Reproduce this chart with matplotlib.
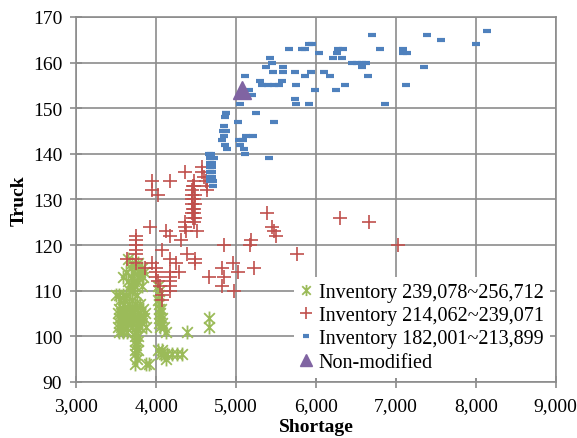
import numpy as np
import matplotlib.pyplot as plt
from matplotlib.path import Path
from matplotlib.ticker import FuncFormatter

# Inventory 239,078~256,712
green_x = [3650, 3700, 3780, 3680, 3760, 3830, 3620, 3720, 3800, 3850,
           3590, 3700, 3780, 3840, 3650, 3720, 3760, 3690, 3740, 3820, 4020,
           3670, 3700, 4040, 3500, 3540, 3580, 3620, 3760, 4040,
           3550, 3600, 3700, 4030, 3600, 3660, 3740, 3800, 4040,
           3540, 3580, 3640, 3700, 3760, 3840, 4040, 4060,
           3520, 3560, 3620, 3680, 3720, 3800, 3860, 4050,
           3530, 3570, 3610, 3660, 3720, 3780, 3850, 4040, 4080, 4660,
           3540, 3580, 3650, 3700, 3760, 3820, 4040, 4070,
           3520, 3560, 3620, 3700, 3750, 3800, 3880, 4050, 4100, 4660,
           3540, 3580, 3640, 3740, 4130, 4390,
           3740, 3770, 3740, 3770, 3750,
           3740, 3770, 4030, 4080,
           3740, 4060, 4100, 4140, 4200, 4260, 4330,
           3760, 4120, 3740, 3870, 3910]
green_y = [117, 116, 116, 115, 115, 115, 114, 114, 114, 114,
           113, 113, 113, 113, 112, 112, 112, 111, 111, 111, 111,
           110, 110, 110, 109, 109, 109, 109, 109, 109,
           108, 108, 108, 108, 107, 107, 107, 107, 107,
           106, 106, 106, 106, 106, 106, 106, 106,
           105, 105, 105, 105, 105, 105, 105, 105,
           104, 104, 104, 104, 104, 104, 104, 104, 104, 104,
           103, 103, 103, 103, 103, 103, 103, 103,
           102, 102, 102, 102, 102, 102, 102, 102, 102, 102,
           101, 101, 101, 101, 101, 101,
           100, 100, 99, 99, 98,
           97, 97, 97, 97,
           96, 96, 96, 96, 96, 96, 96,
           95, 95, 94, 94, 94]

# Inventory 214,062~239,071
red_x = [4570, 4366, 4580, 4600, 3954, 4172, 4620, 4470,
         4460, 4480, 4640, 3954, 4450, 4640, 4025, 4450, 4490,
         4450, 4480, 4450, 4490, 4460, 4480, 4450, 4480, 5391,
         4460, 4490, 6307, 4360, 4470, 6660, 3929, 4366, 5445,
         4122, 4370, 4508, 5475, 3744, 4172, 5495, 3744, 4315, 5193,
         3744, 4849, 5172, 7025, 3744, 4076, 3744, 4382, 5760,
         3639, 3744, 4176, 4483, 3744, 3954, 4244, 4483, 4962,
         3857, 3996, 4828, 5223, 4000, 4170, 4290, 5025,
         4000, 4170, 4660, 4845, 4020, 4170, 4046, 4170, 4828,
         4170, 4979, 4080, 4070]
red_y = [137, 136, 136, 135, 134, 134, 134, 134,
         133, 133, 133, 132, 132, 132, 131, 131, 131,
         130, 130, 129, 129, 128, 128, 127, 127, 127,
         126, 126, 126, 125, 125, 125, 124, 124, 124,
         123, 123, 123, 123, 122, 122, 122, 121, 121, 121,
         120, 120, 120, 120, 119, 119, 118, 118, 118,
         117, 117, 117, 117, 116, 116, 116, 116, 116,
         115, 115, 115, 115, 114, 114, 114, 114,
         113, 113, 113, 113, 112, 112, 111, 111, 111,
         110, 110, 109, 108]

# Inventory 182,001~213,899
blue_x = [8147, 6702, 7387, 7567, 8000, 5910, 5950,
          5660, 5830, 5860, 6281, 6336, 6798, 7084,
          6038, 6260, 7090, 7140, 5420, 6218, 6323,
          5445, 6450, 6520, 6580, 6630, 5374, 5584, 6576, 7353,
          5466, 5584, 5735, 5933, 6105, 5118, 5866, 6172, 6651,
          5303, 5580, 5168, 5200, 5328, 5400, 5470, 5540, 5752, 6370, 7130,
          5983, 6256, 5735, 5756, 5916, 5055, 6861,
          4870, 4880, 4860, 5248, 5021, 5470, 4849,
          4836, 4878, 4849, 5130, 5214, 4828, 5034, 5088,
          4857, 5046, 4887, 5105, 5109, 5408,
          4668, 4690, 4680, 4720, 4676, 4700, 4676, 4695,
          4676, 4695, 4676, 4695, 4672, 4710, 4715]
blue_y = [167, 166, 166, 165, 164, 164, 164,
          163, 163, 163, 163, 163, 163, 163,
          162, 162, 162, 162, 161, 161, 161,
          160, 160, 160, 160, 160, 159, 159, 159, 159,
          158, 158, 158, 158, 158, 157, 157, 157, 157,
          156, 156, 154, 153, 155, 155, 155, 155, 155, 155, 155,
          154, 154, 152, 151, 151, 151, 151,
          149, 149, 148, 149, 147, 147, 146,
          145, 145, 144, 144, 144, 143, 143, 143,
          142, 142, 141, 141, 140, 139,
          140, 140, 139, 139, 138, 138, 137, 137,
          136, 136, 135, 135, 134, 134, 133]

base_x = [5080]
base_y = [154]

plt.rcParams['font.family'] = ['Liberation Serif', 'DejaVu Serif']

green = '#9BBB59'
red = '#C0504D'
blue = '#4F81BD'
purple = '#8064A2'
grid_c = '#8C8C8C'

# excel style star: x with a vertical bar
star = Path([(-1, -1), (1, 1), (-1, 1), (1, -1), (0, -1.3), (0, 1.3)],
            [Path.MOVETO, Path.LINETO, Path.MOVETO, Path.LINETO,
             Path.MOVETO, Path.LINETO])

fig = plt.figure(figsize=(5.77, 4.39), dpi=100)
ax = fig.add_axes([0.132, 0.128, 0.831, 0.831])

ax.plot(green_x, green_y, ls='none', marker=star, ms=10, mfc='none',
        mec=green, mew=1.3, label='Inventory 239,078~256,712', zorder=3)
ax.plot(red_x, red_y, ls='none', marker='+', ms=9.5, mec=red, mew=1.2,
        label='Inventory 214,062~239,071', zorder=3)
ax.plot(blue_x, blue_y, ls='none', marker='_', ms=6, mec=blue, mew=3,
        label='Inventory 182,001~213,899', zorder=3)
ax.plot(base_x, base_y, ls='none', marker='^', ms=13, color=purple,
        label='Non-modified', zorder=4)

ax.set_xlim(3000, 9000)
ax.set_ylim(90, 170)
ax.set_xticks(np.arange(3000, 9001, 1000))
ax.set_yticks(np.arange(90, 171, 10))
ax.xaxis.set_major_formatter(FuncFormatter(lambda v, p: '{:,.0f}'.format(v)))
ax.grid(True, color=grid_c, lw=1.2)
ax.set_axisbelow(True)
for s in ax.spines.values():
    s.set_color(grid_c)
    s.set_linewidth(1.2)
ax.tick_params(direction='inout', length=8, width=1.2, color=grid_c,
               labelsize=14, labelcolor='black')
ax.tick_params(axis='y', pad=6)
ax.tick_params(axis='x', pad=7)

ax.set_xlabel('Shortage', fontsize=14, fontweight='bold', labelpad=3)
ax.set_ylabel('Truck', fontsize=14, fontweight='bold', labelpad=4)

leg = ax.legend(loc='lower right', bbox_to_anchor=(1.0, -0.005), frameon=True,
                fontsize=14.5, handlelength=0.6, handletextpad=0.3,
                borderpad=0.3, labelspacing=0.2, borderaxespad=0.3)
leg.get_frame().set_edgecolor('none')
leg.get_frame().set_facecolor('white')
leg.get_frame().set_alpha(1)
leg.get_frame().set_boxstyle('square', pad=0)
for h, s in zip(leg.legend_handles, [8, 8, 5, 9]):
    h.set_markersize(s)

fig.savefig('out.png', dpi=100)
